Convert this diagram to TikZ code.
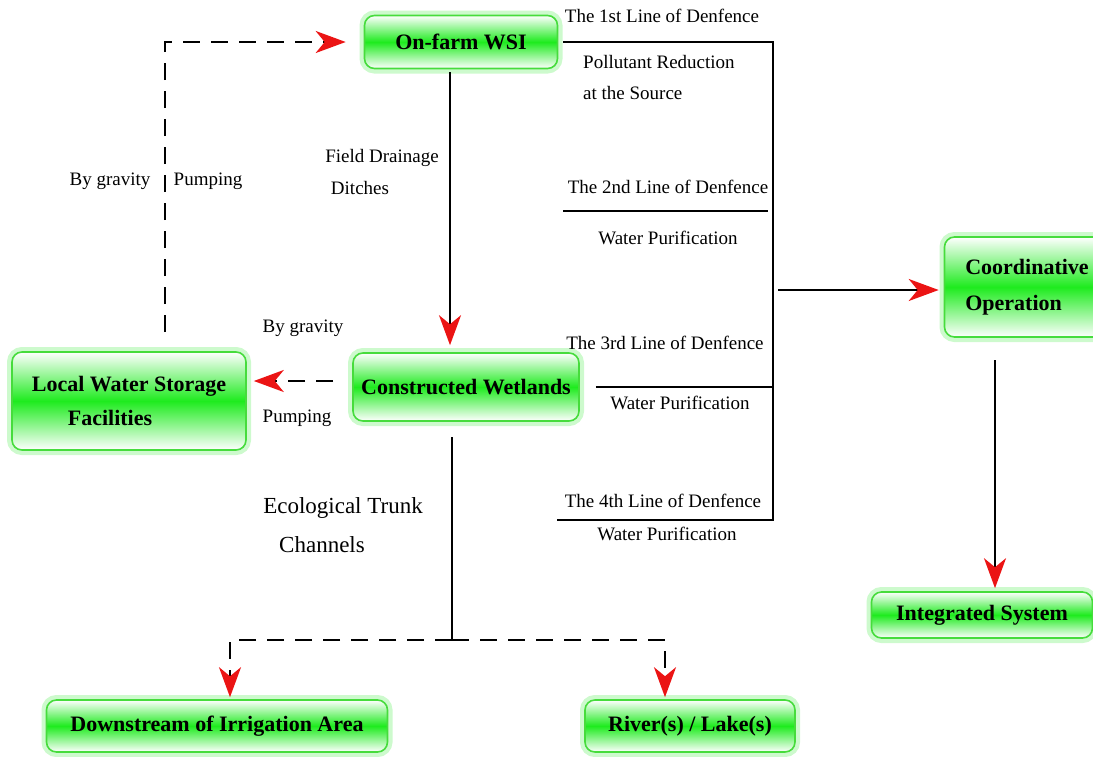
\documentclass[tikz,border=0pt]{standalone}
\usepackage{fontspec}
\setmainfont{Liberation Serif}
\usetikzlibrary{arrows.meta,positioning}
\definecolor{boxgreen}{RGB}{70,220,60}
\definecolor{bandgreen}{RGB}{30,235,30}
\definecolor{glowgreen}{RGB}{205,250,205}
\definecolor{tipred}{RGB}{235,20,20}
\tikzset{
  box/.style={rectangle, rounded corners=10pt, draw=boxgreen, line width=1.6pt,
    top color=white, bottom color=white, middle color=bandgreen,
    preaction={draw=glowgreen, line width=10pt},
    font=\fontsize{22}{25}\selectfont\bfseries, inner sep=4pt},
  flow/.style={line width=2.6pt, -{Stealth[tipred, length=30pt, width=22pt, inset=9pt]}},
  dashflow/.style={flow, dash pattern=on 17pt off 11pt},
  plain/.style={line width=2.2pt},
  lbl/.style={font=\fontsize{19}{22}\selectfont, inner sep=0pt},
  biglbl/.style={font=\fontsize{23}{26}\selectfont, inner sep=0pt}
}
\begin{document}
\begin{tikzpicture}[x=1pt, y=-1pt]
  \useasboundingbox (0,0) rectangle (1093,756);

  % boxes
  \node[box, minimum width=193pt, minimum height=53pt] (farm) at (461,42) {On-farm WSI};
  \node[box, minimum width=234pt, minimum height=98pt, align=left] (store) at (129,401)
    {Local Water Storage\\[9pt]\hspace*{36pt}Facilities};
  \node[box, minimum width=226pt, minimum height=68pt] (wet) at (466,387) {Constructed Wetlands};
  \node[box, minimum width=165pt, minimum height=100pt, align=left] (coord) at (1027,287)
    {Coordinative\\[11pt]Operation};
  \node[box, minimum width=221pt, minimum height=46pt] (integ) at (982,615) {Integrated System};
  \node[box, minimum width=341pt, minimum height=52pt] (down) at (217,726) {Downstream of Irrigation Area};
  \node[box, minimum width=210pt, minimum height=52pt] (river) at (690,726) {River(s) / Lake(s)};

  % helper points
  \coordinate (g1) at (165,332);
  \coordinate (f0) at (450,72);
  \coordinate (s0) at (333,381);
  \coordinate (t0) at (452,437);
  \coordinate (t1) at (452,640);
  \coordinate (brtop) at (773,40);
  \coordinate (brbot) at (773,520);
  \coordinate (l2a) at (563,211);
  \coordinate (l2b) at (768,211);
  \coordinate (l4) at (557,520);
  \coordinate (mid) at (778,290);
  \coordinate (c0) at (995,360);

  % left loop
  \draw[dashflow] (g1) |- ([xshift=-18pt]farm.west);
  \draw[flow, shorten >=7pt] (f0) -- (f0 |- wet.north);
  \draw[dashflow, shorten >=7pt] (s0) -- (s0 -| store.east);

  % trunk channels
  \draw[plain] (t0) -- (t1);
  \draw[dashflow] (t1) -| ([xshift=13pt, yshift=2pt]down.north);
  \draw[dashflow] (t1) -| ([xshift=-25pt, yshift=2pt]river.north);

  % lines of defence
  \draw[plain] ([xshift=5pt]farm.east) -- (farm.east -| brtop) -- (brbot) -- (l4);
  \draw[plain] (l2a) -- (l2b);
  \draw[plain] ([xshift=16pt]wet.east) -- (wet.east -| brtop);
  \draw[flow, shorten >=5pt] (mid) -- (mid -| coord.west);
  \draw[flow, shorten >=3pt] (c0) -- (c0 |- integ.north);

  % labels
  \node[lbl] (gr1) at (110,181) {By gravity};
  \node[lbl] (pu1) at (208,181) {Pumping};
  \node[lbl] (fd1) at (382,158) {Field Drainage};
  \node[lbl] (fd2) at (360,188) {Ditches};
  \node[lbl] (gr2) at (303,328) {By gravity};
  \node[lbl] (pu2) at (297,418) {Pumping};
  \node[biglbl] (et1) at (343,508) {Ecological Trunk};
  \node[biglbl] (et2) at (322,545) {Channels};
  \node[lbl] (d1) at (662,16) {The 1st Line of Denfence};
  \node[lbl, anchor=west] (d1a) at (583,62) {Pollutant Reduction};
  \node[lbl, anchor=west] (d1b) at (583,93) {at the Source};
  \node[lbl] (d2) at (668,187) {The 2nd Line of Denfence};
  \node[lbl] (d2a) at (668,238) {Water Purification};
  \node[lbl] (d3) at (665,343) {The 3rd Line of Denfence};
  \node[lbl] (d3a) at (680,403) {Water Purification};
  \node[lbl] (d4) at (663,501) {The 4th Line of Denfence};
  \node[lbl] (d4a) at (667,534) {Water Purification};
\end{tikzpicture}
\end{document}
